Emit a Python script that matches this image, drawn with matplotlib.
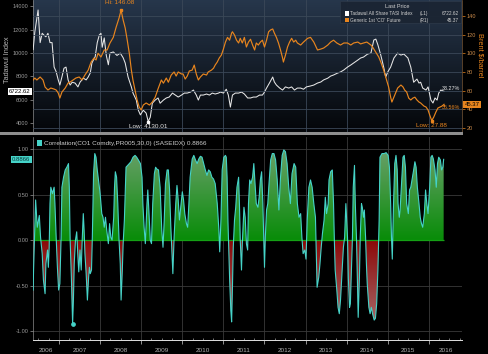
import numpy as np
import matplotlib
matplotlib.use("Agg")
import matplotlib.pyplot as plt
import matplotlib.transforms as mtransforms
from matplotlib.path import Path
from matplotlib.patches import PathPatch, Rectangle

plt.rcParams['font.family'] = ['Liberation Sans', 'DejaVu Sans']

# Tadawul All Share TASI index (left axis), (decimal year, level)
tasi = [
    (2006.37, 10300), (2006.41, 11800), (2006.49, 13700), (2006.54, 10900), (2006.59, 11700),
    (2006.63, 11550), (2006.68, 11400), (2006.73, 11700), (2006.78, 10900), (2006.83, 10900),
    (2006.88, 8800), (2006.93, 8400), (2006.98, 7700),
    (2007.02, 7260), (2007.07, 7950), (2007.12, 8700), (2007.17, 8800), (2007.22, 7700),
    (2007.27, 7260), (2007.32, 7500), (2007.39, 7430), (2007.46, 7100), (2007.51, 7500),
    (2007.59, 7850), (2007.66, 7700), (2007.71, 7950), (2007.76, 8300), (2007.80, 9150),
    (2007.88, 9700), (2007.93, 10900), (2007.98, 11550),
    (2008.02, 11700), (2008.05, 10500), (2008.10, 11300), (2008.15, 9800), (2008.20, 9000),
    (2008.24, 10000), (2008.32, 10100), (2008.41, 9800), (2008.49, 10000), (2008.56, 9600),
    (2008.61, 9150), (2008.68, 7950), (2008.76, 7100), (2008.80, 6570), (2008.88, 5970),
    (2008.93, 5100), (2008.98, 4700),
    (2009.05, 5100), (2009.12, 4850), (2009.17, 4130.01), (2009.22, 4500), (2009.27, 5700),
    (2009.34, 5970), (2009.41, 6150), (2009.46, 5700), (2009.54, 5970), (2009.61, 6150),
    (2009.68, 6230), (2009.76, 6570), (2009.83, 6400), (2009.90, 6230), (2009.98, 6400),
    (2010.05, 6570), (2010.12, 6570), (2010.20, 6660), (2010.27, 6830), (2010.34, 6400),
    (2010.39, 5970), (2010.44, 6400), (2010.51, 6400), (2010.59, 6490), (2010.66, 6400),
    (2010.73, 6570), (2010.80, 6490), (2010.88, 6570), (2010.93, 6660),
    (2011.00, 6570), (2011.07, 6900), (2011.12, 6400), (2011.17, 5370), (2011.22, 6400),
    (2011.29, 6570), (2011.37, 6570), (2011.44, 6660), (2011.51, 6490), (2011.59, 6150),
    (2011.66, 6150), (2011.73, 6230), (2011.80, 6230), (2011.88, 6400), (2011.95, 6400),
    (2012.00, 6660), (2012.05, 7000), (2012.12, 7430), (2012.20, 7950), (2012.24, 7520),
    (2012.29, 7260), (2012.37, 7000), (2012.44, 6830), (2012.51, 7100), (2012.59, 7000),
    (2012.66, 7100), (2012.73, 6830), (2012.80, 7000), (2012.88, 7000), (2012.95, 6900),
    (2013.02, 7100), (2013.12, 7180), (2013.20, 7260), (2013.29, 7430), (2013.37, 7520),
    (2013.44, 7700), (2013.54, 7850), (2013.61, 8030), (2013.68, 8120), (2013.78, 8290),
    (2013.85, 8380), (2013.93, 8550),
    (2014.02, 8800), (2014.10, 8980), (2014.17, 9150), (2014.27, 9400), (2014.34, 9580),
    (2014.41, 9660), (2014.51, 9920), (2014.59, 10000), (2014.66, 11120), (2014.71, 11200),
    (2014.76, 10700), (2014.83, 9830), (2014.90, 8800), (2014.95, 7950),
    (2015.00, 8380), (2015.07, 8800), (2015.15, 9580), (2015.24, 10000), (2015.32, 9830),
    (2015.39, 9920), (2015.49, 9580), (2015.56, 8800), (2015.63, 7500), (2015.71, 7770),
    (2015.76, 7430), (2015.80, 7500), (2015.85, 7000), (2015.93, 6830), (2015.98, 7100),
    (2016.05, 5970), (2016.10, 5720), (2016.15, 6150), (2016.20, 5970), (2016.24, 6570),
    (2016.29, 6830), (2016.37, 6722.62),
]

# Generic 1st 'CO' future, Brent (right axis), (decimal year, $/barrel)
brent = [
    (2006.37, 71.4), (2006.41, 73.5), (2006.46, 71.4), (2006.54, 74.6), (2006.61, 71.4),
    (2006.66, 63.9), (2006.73, 60.7), (2006.80, 62.8), (2006.88, 61.7), (2006.93, 60.7),
    (2006.98, 57.5),
    (2007.02, 52.1), (2007.07, 58.5), (2007.15, 62.8), (2007.22, 68.2), (2007.27, 69.2),
    (2007.34, 71.4), (2007.41, 73.5), (2007.49, 74.6), (2007.56, 71.4), (2007.63, 76.7),
    (2007.71, 82.0), (2007.78, 90.6), (2007.85, 94.9), (2007.90, 92.8), (2007.95, 100.0),
    (2008.02, 96.0), (2008.10, 103.5), (2008.17, 103.5), (2008.24, 111.0), (2008.32, 117.0),
    (2008.39, 128.0), (2008.46, 137.7), (2008.51, 146.08), (2008.56, 135.6), (2008.61, 127.0),
    (2008.66, 114.0), (2008.71, 100.0), (2008.76, 82.0), (2008.80, 71.0), (2008.85, 60.7),
    (2008.90, 50.0), (2008.95, 42.5),
    (2009.00, 39.3), (2009.05, 44.6), (2009.12, 46.8), (2009.20, 44.6), (2009.27, 47.8),
    (2009.34, 53.0), (2009.41, 62.0), (2009.49, 71.4), (2009.54, 68.0), (2009.61, 73.5),
    (2009.66, 69.0), (2009.73, 76.7), (2009.80, 80.0), (2009.85, 75.6), (2009.90, 80.0),
    (2009.98, 77.8),
    (2010.02, 77.8), (2010.07, 72.4), (2010.12, 75.6), (2010.17, 81.0), (2010.24, 82.0),
    (2010.29, 87.4), (2010.34, 77.8), (2010.39, 71.4), (2010.44, 74.6), (2010.51, 77.8),
    (2010.59, 76.7), (2010.63, 80.0), (2010.71, 82.0), (2010.76, 84.0), (2010.80, 87.4),
    (2010.85, 90.6), (2010.90, 95.0), (2010.95, 98.0),
    (2011.00, 104.5), (2011.05, 112.0), (2011.10, 117.0), (2011.15, 114.0), (2011.20, 121.6),
    (2011.22, 123.0), (2011.27, 119.5), (2011.32, 114.0), (2011.37, 111.0), (2011.41, 116.0),
    (2011.46, 111.0), (2011.51, 117.0), (2011.56, 106.7), (2011.61, 112.0), (2011.66, 115.0),
    (2011.71, 108.8), (2011.76, 103.5), (2011.80, 111.0), (2011.85, 108.8), (2011.90, 112.0),
    (2011.95, 114.0),
    (2012.00, 106.7), (2012.05, 114.0), (2012.10, 123.0), (2012.15, 125.0), (2012.20, 126.0),
    (2012.24, 121.6), (2012.29, 117.0), (2012.34, 111.0), (2012.39, 103.5), (2012.44, 95.0),
    (2012.46, 90.6), (2012.51, 98.0), (2012.56, 106.7), (2012.61, 112.0), (2012.66, 116.0),
    (2012.71, 112.0), (2012.76, 114.0), (2012.80, 111.0), (2012.88, 108.8), (2012.95, 112.0),
    (2013.05, 116.0), (2013.12, 117.0), (2013.20, 112.0), (2013.29, 103.5), (2013.37, 104.5),
    (2013.44, 105.6), (2013.54, 108.8), (2013.61, 112.0), (2013.68, 114.0), (2013.76, 111.0),
    (2013.85, 108.8), (2013.93, 111.0),
    (2014.02, 111.0), (2014.10, 108.8), (2014.17, 111.0), (2014.27, 112.0), (2014.34, 110.0),
    (2014.41, 111.0), (2014.49, 112.0), (2014.59, 108.8), (2014.63, 106.7), (2014.71, 101.0),
    (2014.78, 96.0), (2014.83, 90.6), (2014.90, 82.0), (2014.95, 74.6),
    (2015.02, 64.0), (2015.07, 53.0), (2015.10, 47.8), (2015.15, 53.0), (2015.20, 58.5),
    (2015.24, 62.8), (2015.32, 66.0), (2015.37, 64.0), (2015.41, 60.7), (2015.46, 58.5),
    (2015.51, 52.0), (2015.56, 50.0), (2015.61, 52.0), (2015.66, 53.0), (2015.71, 50.0),
    (2015.76, 47.8), (2015.80, 46.8), (2015.88, 43.5), (2015.93, 42.5), (2015.98, 39.3),
    (2016.02, 34.0), (2016.07, 27.88), (2016.12, 31.8), (2016.17, 37.0), (2016.22, 41.4),
    (2016.27, 42.5), (2016.32, 43.5), (2016.37, 45.37),
]

# 30-day correlation CO1 vs SASEIDX, (decimal year, correlation)
corr = [
    (2006.37, -0.55), (2006.38, -0.33), (2006.43, 0.44), (2006.47, 0.14), (2006.52, 0.27),
    (2006.55, 0.03), (2006.59, -0.15), (2006.62, -0.44), (2006.66, -0.59), (2006.68, -0.26),
    (2006.72, -0.11), (2006.74, -0.30), (2006.76, -0.08), (2006.78, 0.40), (2006.80, 0.58),
    (2006.84, 0.51), (2006.88, 0.58), (2006.90, 0.40), (2006.93, 0.03), (2006.96, -0.30),
    (2006.99, -0.55),
    (2007.02, -0.48), (2007.05, 0.03), (2007.07, 0.58), (2007.11, 0.69), (2007.15, 0.77),
    (2007.19, 0.80), (2007.23, 0.84), (2007.25, 0.58), (2007.27, 0.00), (2007.30, -0.41),
    (2007.33, -0.92), (2007.35, -0.66), (2007.37, -0.26), (2007.40, 0.00), (2007.43, 0.09),
    (2007.46, -0.19), (2007.48, -0.35), (2007.51, -0.11), (2007.54, -0.33), (2007.56, -0.04),
    (2007.59, 0.29), (2007.61, 0.11), (2007.63, -0.15), (2007.66, -0.37), (2007.69, -0.66),
    (2007.72, -0.41), (2007.74, -0.30), (2007.76, -0.37), (2007.79, -0.33), (2007.81, 0.03),
    (2007.84, 0.73), (2007.87, 0.95), (2007.90, 0.91), (2007.93, 0.77), (2007.97, 0.62),
    (2008.00, 0.51), (2008.04, 0.29), (2008.07, 0.25), (2008.10, 0.14), (2008.13, 0.25),
    (2008.16, 0.11), (2008.20, -0.04), (2008.23, 0.18), (2008.26, 0.03), (2008.29, 0.00),
    (2008.33, 0.25), (2008.35, 0.58), (2008.37, 0.75), (2008.40, 0.69), (2008.43, 0.40),
    (2008.46, 0.00), (2008.49, -0.26), (2008.51, -0.66), (2008.54, -0.33), (2008.56, -0.04),
    (2008.59, 0.22), (2008.63, 0.80), (2008.67, 0.82), (2008.71, 0.84), (2008.75, 0.86),
    (2008.80, 0.91), (2008.85, 0.93), (2008.89, 0.91), (2008.93, 0.88), (2008.98, 0.84),
    (2009.02, 0.69), (2009.04, 0.40), (2009.07, 0.14), (2009.10, -0.04), (2009.12, 0.18),
    (2009.14, 0.40), (2009.16, 0.55), (2009.19, 0.29), (2009.22, 0.00), (2009.25, -0.04),
    (2009.28, 0.40), (2009.32, 0.73), (2009.35, 0.80), (2009.38, 0.78), (2009.42, 0.77),
    (2009.46, 0.58), (2009.50, 0.11), (2009.53, -0.08), (2009.56, 0.22), (2009.59, 0.62),
    (2009.63, 0.77), (2009.66, 0.77), (2009.69, 0.55), (2009.72, 0.15), (2009.77, -0.37),
    (2009.80, 0.03), (2009.84, 0.40), (2009.87, 0.60), (2009.90, 0.44), (2009.93, 0.22),
    (2009.97, 0.40),
    (2010.00, 0.53), (2010.03, 0.44), (2010.06, 0.29), (2010.10, 0.18), (2010.13, 0.14),
    (2010.16, 0.40), (2010.19, 0.69), (2010.24, 0.89), (2010.28, 0.93), (2010.32, 0.88),
    (2010.36, 0.84), (2010.40, 0.89), (2010.44, 0.92), (2010.48, 0.91), (2010.52, 0.84),
    (2010.56, 0.77), (2010.60, 0.71), (2010.64, 0.77), (2010.68, 0.75), (2010.72, 0.69),
    (2010.76, 0.67), (2010.80, 0.62), (2010.85, 0.40), (2010.89, 0.11), (2010.91, -0.13),
    (2010.94, 0.22), (2010.97, 0.77),
    (2011.01, 0.91), (2011.05, 0.93), (2011.07, 0.91), (2011.09, 0.69), (2011.11, 0.22),
    (2011.15, -0.41), (2011.18, -0.77), (2011.20, -0.90), (2011.22, -0.52), (2011.24, -0.08),
    (2011.27, 0.22), (2011.30, 0.36), (2011.33, 0.58), (2011.37, 0.69), (2011.39, 0.40),
    (2011.41, 0.00), (2011.44, -0.33), (2011.46, -0.04), (2011.50, 0.36), (2011.53, 0.25),
    (2011.56, -0.04), (2011.59, -0.11), (2011.61, 0.40), (2011.64, 0.66), (2011.67, 0.62),
    (2011.71, 0.69), (2011.74, 0.84), (2011.77, 0.62), (2011.80, 0.40), (2011.84, 0.36),
    (2011.87, 0.47), (2011.90, 0.66), (2011.93, 0.75), (2011.96, 0.40), (2011.98, 0.03),
    (2012.00, -0.30), (2012.02, 0.03), (2012.05, 0.33), (2012.08, 0.40), (2012.11, 0.62),
    (2012.15, 0.88), (2012.19, 0.95), (2012.23, 0.95), (2012.27, 0.88), (2012.31, 0.66),
    (2012.35, 0.33), (2012.39, 0.69), (2012.43, 0.93), (2012.47, 0.99), (2012.51, 0.97),
    (2012.55, 0.84), (2012.59, 0.58), (2012.63, 0.40), (2012.67, 0.73), (2012.72, 0.84),
    (2012.76, 0.80), (2012.80, 0.40), (2012.84, 0.25), (2012.88, 0.29), (2012.91, 0.03),
    (2012.94, -0.15), (2012.98, -0.11),
    (2013.01, -0.21), (2013.04, 0.22), (2013.08, 0.58), (2013.12, 0.66), (2013.16, 0.58),
    (2013.20, 0.40), (2013.24, 0.25), (2013.26, -0.15), (2013.28, -0.52), (2013.32, -0.41),
    (2013.35, -0.26), (2013.38, -0.08), (2013.41, 0.07), (2013.45, 0.22), (2013.48, 0.47),
    (2013.51, 0.29), (2013.55, 0.40), (2013.57, 0.66), (2013.61, 0.75), (2013.65, 0.77),
    (2013.68, 0.40), (2013.70, 0.00), (2013.72, -0.33), (2013.76, -0.55), (2013.79, -0.74),
    (2013.82, -0.81), (2013.85, -0.66), (2013.89, -0.33), (2013.92, -0.08), (2013.95, 0.03),
    (2013.98, 0.40),
    (2014.02, 0.03), (2014.04, -0.41), (2014.07, -0.74), (2014.09, -0.70), (2014.11, -0.41),
    (2014.14, 0.03), (2014.16, 0.58), (2014.19, 0.82), (2014.21, 0.40), (2014.24, 0.00),
    (2014.26, -0.41), (2014.28, -0.85), (2014.31, -0.41), (2014.33, 0.03), (2014.36, 0.40),
    (2014.38, 0.36), (2014.41, 0.25), (2014.43, 0.33), (2014.46, 0.03), (2014.48, -0.26),
    (2014.50, -0.48), (2014.54, -0.74), (2014.57, -0.81), (2014.60, -0.74), (2014.63, -0.81),
    (2014.67, -0.88), (2014.70, -0.86), (2014.73, -0.70), (2014.76, -0.33), (2014.79, 0.22),
    (2014.81, 0.91), (2014.86, 0.95), (2014.91, 0.95), (2014.96, 0.96),
    (2015.01, 0.93), (2015.04, 0.80), (2015.07, 0.40), (2015.09, 0.03), (2015.11, -0.21),
    (2015.14, 0.40), (2015.17, 0.84), (2015.20, 0.93), (2015.23, 0.77), (2015.25, 0.40),
    (2015.28, 0.25), (2015.30, 0.33), (2015.33, 0.58), (2015.37, 0.91), (2015.40, 0.93),
    (2015.43, 0.80), (2015.46, 0.40), (2015.50, 0.29), (2015.53, 0.55), (2015.56, 0.58),
    (2015.59, 0.66), (2015.63, 0.77), (2015.66, 0.86), (2015.69, 0.80), (2015.72, 0.58),
    (2015.76, 0.40), (2015.79, 0.25), (2015.82, 0.18), (2015.85, 0.14), (2015.89, 0.29),
    (2015.92, 0.55), (2015.95, 0.40), (2015.98, 0.29),
    (2016.02, 0.58), (2016.05, 0.91), (2016.08, 0.93), (2016.11, 0.89), (2016.15, 0.77),
    (2016.18, 0.58), (2016.21, 0.84), (2016.24, 0.91), (2016.28, 0.88), (2016.31, 0.77),
    (2016.34, 0.80), (2016.36, 0.8866),
]

years = list(range(2006, 2017))
tasi_ticks = [4000, 6000, 8000, 10000, 12000, 14000]
brent_ticks = [20, 40, 60, 80, 100, 120, 140]
corr_ticks = [-1.0, -0.5, 0.0, 0.5, 1.0]

tasi_name = "Tadawul All Share TASI Index"
brent_name = "Generic 1st 'CO' Future"
corr_name = "Correlation(CO1 Comdty,PR005,30,0) (SASEIDX)"
tasi_chg = "33.27%"
brent_chg = "35.56%"

tasi_t, tasi_v = map(np.array, zip(*tasi))
brent_t, brent_v = map(np.array, zip(*brent))
corr_t, corr_v = map(np.array, zip(*corr))

ORANGE = '#e8851e'
WHITE = '#e6e6e6'
CYAN = '#45d3c8'
GRAY = '#9a9a9a'
FS = 4.6
TFS = 4.1   # tick label size
XLIM = (2006.366, 2016.805)

fig = plt.figure(figsize=(4.88, 3.54), dpi=100, facecolor='black')

# ---------------- top panel ----------------
ax1 = fig.add_axes([0.0676, 0.627, 0.879, 0.373])
ax2 = ax1.twinx()

grad = np.linspace(0, 1, 256)[:, None]
top_c = np.array([0x27, 0x37, 0x4c]) / 255
bot_c = np.array([0x04, 0x06, 0x09]) / 255
bg = (1 - grad) * top_c + grad * bot_c
ax1.imshow(bg[:, None, :], extent=[0, 1, 0, 1], transform=ax1.transAxes,
           aspect='auto', zorder=0)

for y in years[1:]:
    ax1.axvline(y, color='#3b4858', lw=0.6, zorder=1)

ax1.plot(tasi_t, tasi_v, color=WHITE, lw=0.75, zorder=3)
ax2.plot(brent_t, brent_v, color=ORANGE, lw=0.85, zorder=3)

ax1.set_xlim(*XLIM)
ax1.set_ylim(3228, 14555)
ax2.set_ylim(15.7, 157)
ax2.set_xlim(*XLIM)
ax2.grid(axis='y', color='#3b4858', lw=0.6)
ax2.set_axisbelow(True)

ax1.set_xticks([])
ax1.set_yticks(tasi_ticks)
ax1.set_yticklabels([str(v) for v in tasi_ticks])
ax1.tick_params(axis='y', colors=GRAY, labelsize=TFS, length=2, width=0.5, pad=1.2)
ax2.set_yticks(brent_ticks)
ax2.set_yticklabels([str(v) for v in brent_ticks])
ax2.tick_params(axis='y', colors=ORANGE, labelsize=TFS, length=2, width=0.5, pad=1.2)
ax2.tick_params(axis='y', labelcolor='#c98a4a')
for ax in (ax1, ax2):
    for s in ax.spines.values():
        s.set_visible(False)
ax1.spines['left'].set_visible(True)
ax1.spines['left'].set_color('#8a8a8a')
ax1.spines['left'].set_linewidth(0.5)
ax2.spines['right'].set_visible(True)
ax2.spines['right'].set_color('#7a5a3a')
ax2.spines['right'].set_linewidth(0.5)

# hi / low annotations
i_hi = int(np.argmax(brent_v))
i_lo = int(np.argmin(brent_v))
j_lo = int(np.argmin(tasi_v))
ax2.plot(brent_t[i_hi], brent_v[i_hi], 's', color=ORANGE, ms=1.8, zorder=4)
ax2.plot(brent_t[i_lo], brent_v[i_lo], 's', color=ORANGE, ms=1.8, zorder=4)
ax1.plot(tasi_t[j_lo], tasi_v[j_lo], 's', color='white', ms=1.8, zorder=4)
ax2.annotate(f"Hi: {brent_v[i_hi]:.2f}", (brent_t[i_hi], brent_v[i_hi]), xytext=(-1, 5.5),
             textcoords='offset points', ha='center', va='center', color=ORANGE, fontsize=FS)
ax1.annotate(f"Low: {tasi_v[j_lo]:.2f}", (tasi_t[j_lo], tasi_v[j_lo]), xytext=(0, -3.5),
             textcoords='offset points', ha='center', va='center', color=WHITE, fontsize=FS)
ax2.annotate(f"Low: {brent_v[i_lo]:.2f}", (brent_t[i_lo], brent_v[i_lo]), xytext=(0, -3.5),
             textcoords='offset points', ha='center', va='center', color=ORANGE, fontsize=FS)

# end-of-line change labels, kept inside the plot area
er = mtransforms.blended_transform_factory(ax1.transAxes, ax1.transData)
ax1.text(0.997, tasi_v[-1] + 280, tasi_chg, transform=er, ha='right', va='center',
         color=WHITE, fontsize=3.9, zorder=5)
er2 = mtransforms.blended_transform_factory(ax2.transAxes, ax2.transData)
ax2.text(0.997, brent_v[-1] - 3, brent_chg, transform=er2, ha='right', va='center',
         color=ORANGE, fontsize=3.9, zorder=5)

# last value boxes
ax1.text(-0.006, tasi_v[-1], f"{tasi_v[-1]:.2f}", transform=er, ha='right', va='center',
         fontsize=4.3, color='black', clip_on=False,
         bbox=dict(boxstyle='square,pad=0.2', fc='white', ec='none'))
ax2.text(1.006, brent_v[-1], f"{brent_v[-1]:.2f}", transform=er2, ha='left', va='center',
         fontsize=4.3, color='black', clip_on=False, zorder=6,
         bbox=dict(boxstyle='square,pad=0.2', fc=ORANGE, ec='none'))

# legend box
ax2.add_patch(Rectangle((0.715, 0.825), 0.283, 0.17, transform=ax2.transAxes,
                        fc='#1b2533', ec='#2e3a4a', lw=0.5, alpha=0.95, zorder=5))
ax2.text(0.85, 0.952, "Last Price", transform=ax2.transAxes, ha='center', va='center',
         color='#d0d0d0', fontsize=4.0, zorder=6)
rows = [(tasi_name, "(L1)", f"{tasi_v[-1]:.2f}", 'white', 0.898),
        (brent_name, "(R1)", f"{brent_v[-1]:.2f}", ORANGE, 0.848)]
for name, tag, val, col, ya in rows:
    ax2.add_patch(Rectangle((0.727, ya - 0.018), 0.009, 0.036, transform=ax2.transAxes,
                            fc=col, ec='none', zorder=6))
    ax2.text(0.740, ya, name, transform=ax2.transAxes, ha='left', va='center',
             color='#d0d0d0', fontsize=3.4, zorder=6)
    ax2.text(0.902, ya, tag, transform=ax2.transAxes, ha='left', va='center',
             color='#d0d0d0', fontsize=3.4, zorder=6)
    ax2.text(0.993, ya, val, transform=ax2.transAxes, ha='right', va='center',
             color='#d0d0d0', fontsize=3.4, zorder=6)

fig.text(7.5 / 488, 1 - 60 / 354, "Tadawul Index", rotation=90, ha='center', va='center',
         color='#b5b5b5', fontsize=5.3)
fig.text(480 / 488, 1 - 55 / 354, "Brent $/barrel", rotation=270, ha='center', va='center',
         color=ORANGE, fontsize=5.3)

# separator bar
fig.patches.append(Rectangle((0, 1 - 135.5 / 354), 463 / 488, 3 / 354,
                             transform=fig.transFigure, fc='#8e8e8e', ec='none'))

# ---------------- bottom panel ----------------
ax3 = fig.add_axes([0.0676, 0.0395, 0.879, 0.5735])
ax3.set_facecolor('black')

for y in years[1:]:
    ax3.axvline(y, color='#3a3a3a', lw=0.6, zorder=0)
for v in corr_ticks:
    if v != 0:
        ax3.axhline(v, color='#3a3a3a', lw=0.6, zorder=0)


def grad_fill(ax, where, c_top, c_bot, y0, y1):
    coll = ax.fill_between(corr_t, corr_v, 0, where=where, interpolate=True,
                           facecolor='none', edgecolor='none')
    comp = Path.make_compound_path(*coll.get_paths())
    patch = PathPatch(comp, transform=ax.transData, fc='none', ec='none')
    ax.add_patch(patch)
    g = np.linspace(0, 1, 256)[:, None]
    rgb = (1 - g) * np.array(c_top) + g * np.array(c_bot)
    im = ax.imshow(rgb[:, None, :], extent=[XLIM[0], XLIM[1], y0, y1], aspect='auto',
                   origin='upper', zorder=1)
    im.set_clip_path(patch)


grad_fill(ax3, corr_v >= 0, np.array([0x6a, 0xa0, 0x6a]) / 255,
          np.array([0x08, 0x8c, 0x08]) / 255, 0, 1.0)
grad_fill(ax3, corr_v <= 0, np.array([0x8c, 0x08, 0x08]) / 255,
          np.array([0xa8, 0x70, 0x70]) / 255, -1.0, 0)

ax3.hlines(0, corr_t[0], corr_t[-1], color='#15a015', lw=0.9, zorder=2)
ax3.plot(corr_t, corr_v, color=CYAN, lw=0.8, zorder=3)
k = int(np.argmin(corr_v))
ax3.plot(corr_t[k], corr_v[k], 'o', color=CYAN, ms=2.4, zorder=4)

ax3.set_xlim(*XLIM)
ax3.set_ylim(-1.099, 1.132)
ax3.set_yticks(corr_ticks)
ax3.set_yticklabels([f"{v:.2f}" for v in corr_ticks])
ax3.tick_params(axis='y', colors=GRAY, labelsize=TFS, length=2, width=0.5, pad=1.2)
ax3.set_xticks(years[1:])
ax3.set_xticklabels([])
ax3.set_xticks(np.arange(2006.5, 2016.8, 0.25), minor=True)
ax3.tick_params(axis='x', which='major', colors='#cccccc', length=3, width=0.5,
                direction='out')
ax3.tick_params(axis='x', which='minor', colors='#cccccc', length=1.5, width=0.4,
                direction='in')
for s in ax3.spines.values():
    s.set_visible(False)
ax3.spines['bottom'].set_visible(True)
ax3.spines['bottom'].set_color('#e0e0e0')
ax3.spines['bottom'].set_linewidth(0.7)
ax3.spines['left'].set_visible(True)
ax3.spines['left'].set_color('#8a8a8a')
ax3.spines['left'].set_linewidth(0.5)
ax3.axvline(XLIM[1], color='#3a3a3a', lw=0.6)

bt = mtransforms.blended_transform_factory(ax3.transData, ax3.transAxes)
for y in years:
    lo = max(y, XLIM[0])
    hi = min(y + 1, XLIM[1])
    ax3.text((lo + hi) / 2, -0.05, str(y), transform=bt, ha='center', va='center',
             color='#b0b0b0', fontsize=FS, clip_on=False)

# correlation legend
ax3.add_patch(Rectangle((0.01, 0.955), 0.011, 0.028, transform=ax3.transAxes,
                        fc=CYAN, ec='none', zorder=6))
ax3.text(0.025, 0.969, f"{corr_name} {corr_v[-1]:.4f}", transform=ax3.transAxes,
         ha='left', va='center', color='#cfcfcf', fontsize=FS, zorder=6)

cl = mtransforms.blended_transform_factory(ax3.transAxes, ax3.transData)
ax3.text(-0.006, corr_v[-1], f"{corr_v[-1]:.4f}", transform=cl, ha='right', va='center',
         fontsize=4.3, color='#0a3a3a', clip_on=False,
         bbox=dict(boxstyle='square,pad=0.2', fc=CYAN, ec='none'))

fig.savefig('out.png', dpi=100, facecolor='black')
